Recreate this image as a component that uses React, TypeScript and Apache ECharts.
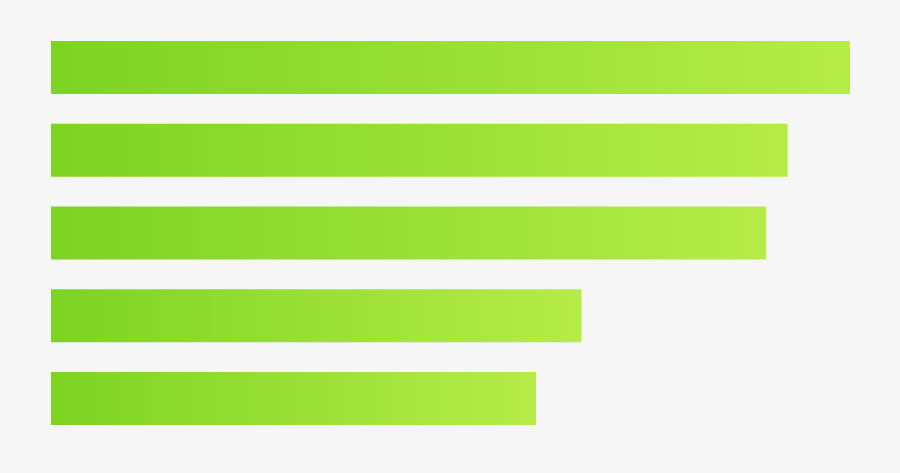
import React from 'react';
import * as echarts from 'echarts';

const categories = ['A', 'B', 'C', 'D', 'E'];
const values = [100, 92.2, 89.5, 66.4, 60.7];

export default function App() {
  const chartRef = React.useRef<HTMLDivElement>(null);

  React.useEffect(() => {
    if (!chartRef.current) return;
    const chart = echarts.init(chartRef.current, undefined, { renderer: 'svg' });

    chart.setOption({
      animation: false,
      backgroundColor: '#f6f6f6',
      grid: { left: 51, right: 50, top: 26, bottom: 33 },
      xAxis: { type: 'value', min: 0, max: 100, show: false },
      yAxis: {
        type: 'category',
        data: categories,
        inverse: true,
        show: false,
      },
      series: [
        {
          type: 'bar',
          barWidth: 53,
          data: values,
          itemStyle: {
            color: new echarts.graphic.LinearGradient(0, 0, 1, 0, [
              { offset: 0, color: '#7dd322' },
              { offset: 1, color: '#b6ec48' },
            ]),
          },
        },
      ],
    });

    return () => {
      chart.dispose();
    };
  }, []);

  return (
    <div
      ref={chartRef}
      style={{ position: 'fixed', left: 0, top: 0, width: 900, height: 473 }}
    />
  );
}
